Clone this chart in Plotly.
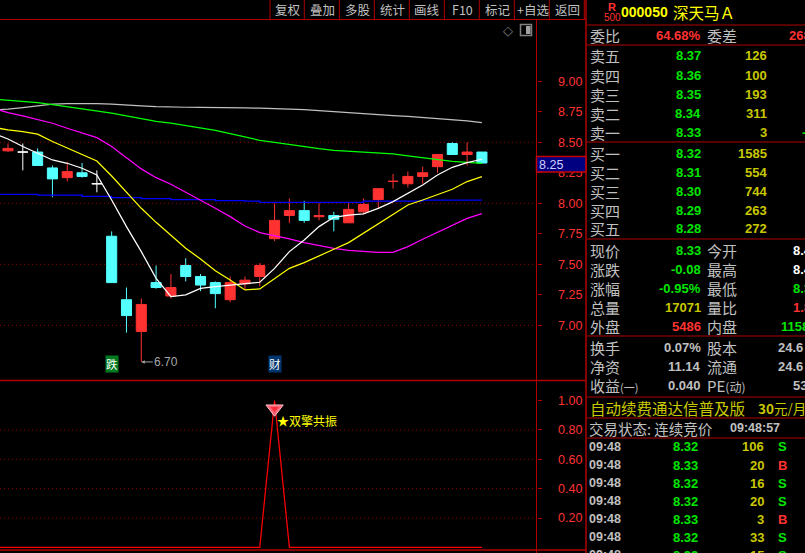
import plotly.graph_objects as go

W, H = 805, 553
CJK = "Noto Sans CJK SC"
NUM = "Liberation Sans"
RED = "#ff3232"
CYAN = "#54ffff"
DARK_RED = "#b00000"
GRID = "#a00000"
GREY = "#c0c0c0"
GREEN = "#00e600"
YELLOW = "#ffff00"
DIM_YELLOW = "#c8c800"

# candles: open, high, low, close
opens = [8.43, 8.42, 8.42, 8.29, 8.21, 8.25, 8.16, 7.73, 7.21, 6.95, 7.35, 7.24, 7.49, 7.40, 7.35, 7.21, 7.34,
         7.40, 7.71, 7.90, 7.94, 7.89, 7.90, 7.84, 7.93, 8.03, 8.18, 8.16, 8.22, 8.30, 8.49, 8.40, 8.42]
highs = [8.49, 8.49, 8.45, 8.31, 8.34, 8.33, 8.27, 7.77, 7.31, 7.22, 7.49, 7.42, 7.55, 7.42, 7.36, 7.40, 7.40,
         7.51, 8.00, 8.04, 8.02, 8.00, 7.93, 8.00, 8.04, 8.12, 8.24, 8.26, 8.30, 8.40, 8.50, 8.50, 8.42]
lows = [8.42, 8.27, 8.31, 8.05, 8.18, 8.21, 8.09, 7.35, 6.94, 6.70, 7.30, 7.22, 7.36, 7.28, 7.14, 7.19, 7.29,
        7.32, 7.69, 7.84, 7.84, 7.86, 7.77, 7.84, 7.91, 7.96, 8.12, 8.13, 8.16, 8.25, 8.40, 8.31, 8.33]
closes = [8.45, 8.42, 8.31, 8.20, 8.26, 8.22, 8.16, 7.35, 7.08, 7.17, 7.31, 7.31, 7.40, 7.33, 7.26, 7.35, 7.37,
          7.49, 7.86, 7.94, 7.86, 7.90, 7.87, 7.95, 7.99, 8.12, 8.18, 8.22, 8.25, 8.40, 8.40, 8.42, 8.33]
white_doji = [1, 6]
candle_x = list(range(33))

# moving averages, first value is the candle just off the left edge
ma_x = list(range(-1, 33))
ma_white = [8.574, 8.527, 8.465, 8.410, 8.355, 8.328, 8.287, 8.232, 8.027, 7.809, 7.604, 7.385, 7.235, 7.249, 7.303,
            7.317, 7.331, 7.339, 7.353, 7.467, 7.604, 7.700, 7.809, 7.885, 7.904, 7.913, 7.959, 8.014, 8.082, 8.150,
            8.232, 8.295, 8.333, 8.361]
ma_yellow = [8.623, 8.601, 8.587, 8.566, 8.506, 8.451, 8.402, 8.347, 8.224, 8.088, 7.959, 7.844, 7.735, 7.631, 7.544,
             7.448, 7.372, 7.290, 7.298, 7.385, 7.467, 7.514, 7.571, 7.623, 7.678, 7.754, 7.831, 7.913, 7.986, 8.027,
             8.068, 8.115, 8.178, 8.219]
ma_magenta = [8.779, 8.743, 8.716, 8.689, 8.656, 8.615, 8.574, 8.538, 8.465, 8.374, 8.282, 8.210, 8.156, 8.090, 8.027,
              7.959, 7.891, 7.814, 7.760, 7.735, 7.708, 7.678, 7.653, 7.631, 7.615, 7.607, 7.598, 7.598, 7.645, 7.705,
              7.762, 7.822, 7.877, 7.915]
ma_green = [8.855, 8.847, 8.836, 8.825, 8.809, 8.792, 8.773, 8.757, 8.738, 8.716, 8.691, 8.672, 8.656, 8.637, 8.620,
            8.598, 8.571, 8.544, 8.516, 8.500, 8.481, 8.465, 8.448, 8.434, 8.426, 8.418, 8.410, 8.404, 8.388, 8.372,
            8.358, 8.344, 8.336, 8.328]
ma_gray = [8.765, 8.771, 8.784, 8.801, 8.812, 8.817, 8.820, 8.817, 8.812, 8.803, 8.798, 8.792, 8.787, 8.787, 8.787,
           8.787, 8.784, 8.781, 8.779, 8.776, 8.773, 8.768, 8.760, 8.751, 8.743, 8.735, 8.727, 8.719, 8.713, 8.705,
           8.697, 8.686, 8.675, 8.661]
ma_blue = [8.074, 8.074, 8.074, 8.066, 8.066, 8.066, 8.057, 8.057, 8.047, 8.047, 8.038, 8.038, 8.030, 8.030, 8.030,
           8.022, 8.022, 8.017, 8.008, 8.008, 8.008, 8.008, 8.008, 8.008, 8.008, 8.017, 8.017, 8.017, 8.017, 8.025,
           8.025, 8.025, 8.025, 8.025]

# lower panel signal
signal = [0, 0, 0, 0, 0, 0, 0, 0, 0, 0, 0, 0, 0, 0, 0, 0, 0, 0, 0, 1, 0, 0, 0, 0, 0, 0, 0, 0, 0, 0, 0, 0, 0, 0]

price_ticks = [7.00, 7.25, 7.50, 7.75, 8.00, 8.25, 8.50, 8.75, 9.00]
price_grid = [7.0, 7.5, 8.0, 8.5]
signal_ticks = [0.20, 0.40, 0.60, 0.80, 1.00]
signal_grid = [0.2, 0.4, 0.6, 0.8]

toolbar = ["复权", "叠加", "多股", "统计", "画线", "F10", "标记", "+自选", "返回"]

sell_labels = ["卖五", "卖四", "卖三", "卖二", "卖一"]
sell_prices = ["8.37", "8.36", "8.35", "8.34", "8.33"]
sell_vols = ["126", "100", "193", "311", "3"]
buy_labels = ["买一", "买二", "买三", "买四", "买五"]
buy_prices = ["8.32", "8.31", "8.30", "8.29", "8.28"]
buy_vols = ["1585", "554", "744", "263", "272"]

tick_times = ["09:48"] * 7
tick_prices = ["8.32", "8.33", "8.32", "8.32", "8.33", "8.32", "8.32"]
tick_vols = ["106", "20", "16", "20", "3", "33", "15"]
tick_sides = ["S", "B", "S", "S", "B", "S", "S"]


def px(x):
    return x / W


def py(y):
    return 1 - y / H


annotations = []
shapes = []


def txt(x, y, s, color=GREY, size=15, anchor="left", font=CJK, bold=False):
    if bold:
        s = f"<b>{s}</b>"
    annotations.append(dict(x=px(x), y=py(y), xref="paper", yref="paper", text=s, showarrow=False, xanchor=anchor,
                            yanchor="middle", font=dict(family=font, size=size, color=color), borderpad=0))


def rule(x0, y0, x1, y1, color=DARK_RED, width=1):
    shapes.append(dict(type="line", xref="paper", yref="paper", x0=px(x0), y0=py(y0), x1=px(x1), y1=py(y1),
                       line=dict(color=color, width=width)))


fig = go.Figure()


def add_candles(idx, color):
    fig.add_trace(go.Candlestick(
        x=[candle_x[i] for i in idx], open=[opens[i] for i in idx], high=[highs[i] for i in idx],
        low=[lows[i] for i in idx], close=[closes[i] for i in idx],
        increasing=dict(line=dict(color=color, width=1), fillcolor=color),
        decreasing=dict(line=dict(color=color, width=1), fillcolor=color),
        xaxis="x", yaxis="y", showlegend=False))


up = [i for i in candle_x if closes[i] >= opens[i] and i not in white_doji]
down = [i for i in candle_x if closes[i] < opens[i]]
add_candles(up, RED)
add_candles(down, CYAN)
add_candles(white_doji, "#ffffff")

for values, color, shape in [(ma_gray, "#c0c0c0", "linear"), (ma_green, "#00ff00", "linear"),
                             (ma_blue, "#0000ff", "hv"), (ma_magenta, "#ff00ff", "linear"),
                             (ma_yellow, "#ffff00", "linear"), (ma_white, "#ffffff", "linear")]:
    fig.add_trace(go.Scatter(x=ma_x, y=values, mode="lines", line=dict(color=color, width=1.25, shape=shape),
                             xaxis="x", yaxis="y", showlegend=False))

fig.add_trace(go.Scatter(x=ma_x, y=signal, mode="lines", line=dict(color="#ff0000", width=1.25),
                         xaxis="x2", yaxis="y2", showlegend=False))
# gem on top of the peak
fig.add_trace(go.Scatter(x=[18], y=[0.945], mode="markers", xaxis="x2", yaxis="y2", showlegend=False,
                         marker=dict(symbol="triangle-down", size=15, color="#ff6478",
                                     line=dict(color="#ffc0c8", width=1))))
fig.add_trace(go.Scatter(x=[18], y=[0.945], mode="markers", xaxis="x2", yaxis="y2", showlegend=False,
                         marker=dict(symbol="triangle-down", size=7, color="#ff2c3c", line=dict(width=0))))

# dotted grid
for p in price_grid:
    shapes.append(dict(type="line", xref="paper", yref="y", x0=0, x1=px(536), y0=p, y1=p, layer="below",
                       line=dict(color=GRID, width=1, dash="1px,3px")))
for p in signal_grid:
    shapes.append(dict(type="line", xref="paper", yref="y2", x0=0, x1=px(536), y0=p, y1=p, layer="below",
                       line=dict(color=GRID, width=1, dash="1px,3px")))

# frame
rule(0, 19.5, 586, 19.5)
rule(0, 380.5, 586, 380.5, width=1.5)
rule(0, 550, 586, 550, width=1.5)
rule(536.5, 19.5, 536.5, 553)
rule(586, 0, 586, 553, width=1.5)
for k in range(10):
    sep = 270 if k == 0 else 269.3 + k * 35
    rule(sep, 0, sep, 19.5)
for k, label in enumerate(toolbar):
    txt(287.5 + k * 35, 9, label, size=12.5, anchor="center")

# little icons top right of the chart
txt(507.5, 30, "◇", color="#808080", size=13, anchor="center", font="DejaVu Sans")
shapes.append(dict(type="rect", xref="paper", yref="paper", x0=px(520.5), x1=px(531.5), y0=py(35.5), y1=py(24.5),
                   line=dict(color="#808080", width=1.5)))
shapes.append(dict(type="rect", xref="paper", yref="paper", x0=px(526), x1=px(530.5), y0=py(34), y1=py(26),
                   line=dict(width=0), fillcolor="#a0a0a0"))

# cursor price box
shapes.append(dict(type="rect", xref="paper", yref="paper", x0=px(536.5), x1=px(586), y0=py(172), y1=py(156.5),
                   line=dict(color="#c80000", width=1.5), fillcolor="#000080"))
txt(537.5, 164.5, "8.25", color="#d0d0ff", size=12.5, font=NUM)

# event tags and low label
annotations.append(dict(x=7, y=py(372.5), xref="x", yref="paper", text="跌", showarrow=False, bgcolor="#007a20",
                        font=dict(family=CJK, size=11.5, color="#ffffff"), borderpad=0))
annotations.append(dict(x=18, y=py(372.5), xref="x", yref="paper", text="财", showarrow=False, bgcolor="#00366e",
                        font=dict(family=CJK, size=11.5, color="#ffffff"), borderpad=0))
annotations.append(dict(x=9, y=6.70, xref="x", yref="y", text="6.70", showarrow=True, ax=25, ay=0, arrowhead=2,
                        arrowsize=0.7, arrowwidth=1, arrowcolor="#a0a0a0",
                        font=dict(family=NUM, size=12, color="#a8a8a8")))
annotations.append(dict(x=18, y=0.865, xref="x2", yref="y2", text="★双擎共振", showarrow=False, xanchor="left",
                        font=dict(family=CJK, size=12, color=YELLOW)))

# quote panel header
txt(612, 7, "R", color=RED, size=11, anchor="center", font=NUM, bold=True)
txt(612, 18, "500", color=RED, size=10, anchor="center", font=NUM)
txt(620, 12, "000050", color=YELLOW, size=14, font=NUM, bold=True)
txt(672, 12, "深天马Ａ", color=YELLOW, size=15.5)
for y in [25, 45, 142, 239, 336, 397, 418, 438]:
    rule(587, y, W, y)

txt(588.5, 35, "委比")
txt(702, 35, "64.68%", color=RED, size=13, anchor="right", font=NUM, bold=True)
txt(705.5, 35, "委差")
txt(788, 35, "268", color=RED, size=13, font=NUM, bold=True)

for k in range(5):
    y = 56 + k * 19
    txt(588.5, y, sell_labels[k])
    txt(702, y, sell_prices[k], color=GREEN, size=13, anchor="right", font=NUM, bold=True)
    txt(768, y, sell_vols[k], color=DIM_YELLOW, size=13, anchor="right", font=NUM, bold=True)
    y = 153 + k * 19
    txt(588.5, y, buy_labels[k])
    txt(702, y, buy_prices[k], color=GREEN, size=13, anchor="right", font=NUM, bold=True)
    txt(768, y, buy_vols[k], color=DIM_YELLOW, size=13, anchor="right", font=NUM, bold=True)
txt(801, 132, "-", color=GREEN, size=13, font=NUM, bold=True)

stats = [
    (250, "现价", "8.33", GREEN, "今开", "8.4", "#ffffff", 792),
    (269, "涨跌", "-0.08", GREEN, "最高", "8.4", "#ffffff", 792),
    (288, "涨幅", "-0.95%", GREEN, "最低", "8.3", GREEN, 792),
    (307, "总量", "17071", DIM_YELLOW, "量比", "1.8", RED, 792),
    (326, "外盘", "5486", RED, "内盘", "1158", GREEN, 780),
    (347, "换手", "0.07%", GREY, "股本", "24.6", GREY, 777),
    (366, "净资", "11.14", GREY, "流通", "24.6", GREY, 777),
    (385, "收益<span style='font-size:11px'>(一)</span>", "0.040", GREY, "PE<span style='font-size:12px'>(动)</span>",
     "53", GREY, 792),
]
for y, a, av, ac, b, bv, bc, bx in stats:
    txt(588.5, y, a)
    txt(702, y, av, color=ac, size=13, anchor="right", font=NUM, bold=True)
    txt(705.5, y, b)
    txt(bx, y, bv, color=bc, size=13, font=NUM, bold=True)

txt(589, 407.5, "自动续费通达信普及版", color=DIM_YELLOW, size=15.5)
txt(757, 407.5, "<b>30</b>元/月", color=DIM_YELLOW, size=13.5)
txt(588, 428, "交易状态: 连续竞价", size=14.5)
txt(729, 428, "09:48:57", size=12.5, font=NUM, bold=True)

for k in range(7):
    y = 447 + k * 18
    txt(588, y, tick_times[k], size=12.5, font=NUM, bold=True)
    txt(699, y, tick_prices[k], color=GREEN, size=13, anchor="right", font=NUM, bold=True)
    txt(765, y, tick_vols[k], color=DIM_YELLOW, size=13, anchor="right", font=NUM, bold=True)
    txt(782.5, y, tick_sides[k], color=RED if tick_sides[k] == "B" else GREEN, size=13, anchor="center", font=NUM,
        bold=True)

x_range = [-8 / 14.81, 528.5 / 14.81]
axis_common = dict(showgrid=False, zeroline=False, side="right", ticks="outside", ticklen=4, tickcolor=DARK_RED,
                   tickwidth=1, showline=False, ticklabelstandoff=14,
                   tickfont=dict(family=NUM, size=12.5, color=RED), tickformat=".2f")

fig.update_layout(
    width=W, height=H, margin=dict(l=0, r=0, t=0, b=0), paper_bgcolor="#000000", plot_bgcolor="#000000",
    showlegend=False, boxgap=0.32, boxgroupgap=0, annotations=annotations, shapes=shapes,
    xaxis=dict(domain=[0, 536.5 / W], range=x_range, visible=False, rangeslider=dict(visible=False), anchor="y"),
    xaxis2=dict(domain=[0, 536.5 / W], range=x_range, visible=False, anchor="y2"),
    yaxis=dict(domain=[py(380), py(20)], range=[6.552, 9.502], tickvals=price_ticks, anchor="x", **axis_common),
    yaxis2=dict(domain=[py(551), py(381)], range=[-0.025, 1.134], tickvals=signal_ticks, anchor="x2", **axis_common),
)

fig.write_html("out.html", config={"displayModeBar": False},
               post_script="document.body.style.margin='0';document.body.style.background='#000';")
